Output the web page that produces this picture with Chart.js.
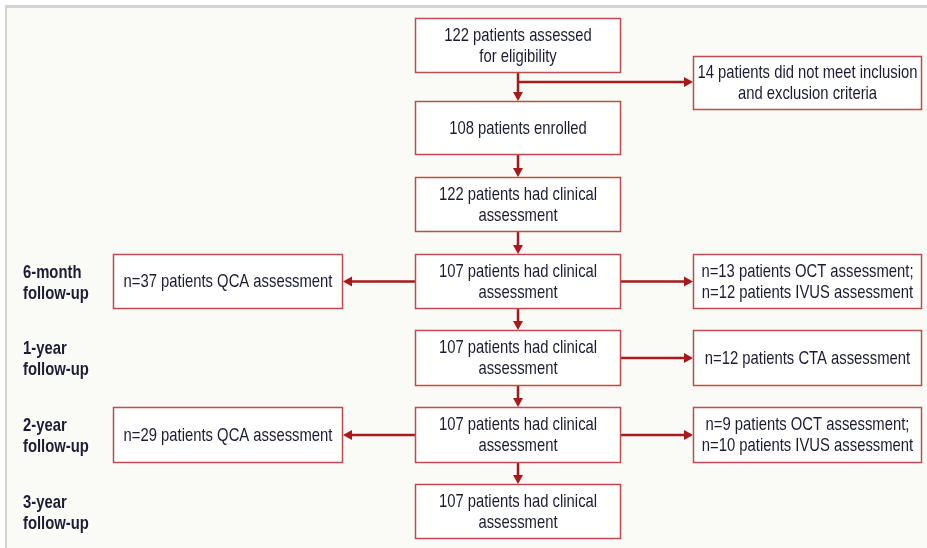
<!DOCTYPE html>
<html>
<head>
<meta charset="utf-8">
<script src="https://cdn.jsdelivr.net/npm/chart.js@4/dist/chart.umd.min.js"></script>
<style>
  body { margin: 0; background: #fff; }
  #wrap { width: 927px; height: 548px; }
</style>
</head>
<body>
<div id="wrap"><canvas id="flow" width="927" height="548"></canvas></div>
<script>
/* ===== DATA ===== */
const stages = ['6-month\nfollow-up', '1-year\nfollow-up', '2-year\nfollow-up', '3-year\nfollow-up'];
const mainSteps = [
  '122 patients assessed\nfor eligibility',
  '108 patients enrolled',
  '122 patients had clinical\nassessment',
  '107 patients had clinical\nassessment',
  '107 patients had clinical\nassessment',
  '107 patients had clinical\nassessment',
  '107 patients had clinical\nassessment'
];
const excluded = '14 patients did not meet inclusion\nand exclusion criteria';
const leftBranches = ['n=37 patients QCA assessment', null, 'n=29 patients QCA assessment', null];
const rightBranches = [
  'n=13 patients OCT assessment;\nn=12 patients IVUS assessment',
  'n=12 patients CTA assessment',
  'n=9 patients OCT assessment;\nn=10 patients IVUS assessment',
  null
];

/* ===== LAYOUT (data units of the hidden scales) ===== */
const MAIN_X = [415, 621];
const LEFT_X = [113, 343];
const RIGHT_X = [693, 922];
const MAIN_Y = [[18, 73], [101, 155], [177, 232], [254, 309], [330, 386], [407, 463], [484, 539]];
const EXCL_Y = [56, 110];
const BRANCH_Y = 82;
const STAGE_X = 23;

const RED = '#a8191c';
const BOX = '#bf4b4b';
const INK = '#1c1c36';
const FONT = '"Liberation Sans", Arial, sans-serif';
const SQUEEZE = 0.78;   // condensed look

/* ===== FLOW PLUGIN ===== */
const flowPlugin = {
  id: 'flow',
  beforeDraw(chart) {
    const { ctx, scales: { x, y } } = chart;
    const px = v => x.getPixelForValue(v);
    const py = v => y.getPixelForValue(v);

    // frame
    ctx.save();
    ctx.fillStyle = '#fafaf6';
    ctx.fillRect(px(6), py(6), px(927) - px(6), py(548) - py(6));
    ctx.fillStyle = '#d2d2d2';
    ctx.fillRect(px(6), py(5), px(927) - px(6), 3);
    ctx.fillRect(px(5), py(5), 2, py(548) - py(5));
    ctx.restore();
  },
  afterDatasetsDraw(chart) {
    const { ctx, scales: { x, y } } = chart;
    const px = v => x.getPixelForValue(v);
    const py = v => y.getPixelForValue(v);

    function text(lines, tx, ty, align, font) {
      ctx.save();
      ctx.translate(tx, ty);
      ctx.scale(SQUEEZE, 1);
      ctx.fillStyle = INK;
      ctx.font = font;
      ctx.textAlign = align;
      ctx.textBaseline = 'middle';
      const lh = 21;
      lines.forEach((l, i) => ctx.fillText(l, 0, (i - (lines.length - 1) / 2) * lh));
      ctx.restore();
    }

    function box(xr, yr, label) {
      const x0 = px(xr[0]), x1 = px(xr[1]), y0 = py(yr[0]), y1 = py(yr[1]);
      ctx.fillStyle = '#ffffff';
      ctx.fillRect(x0, y0, x1 - x0, y1 - y0);
      ctx.strokeStyle = BOX;
      ctx.lineWidth = 1.5;
      ctx.strokeRect(x0 + 0.5, y0 + 0.5, x1 - x0 - 1, y1 - y0 - 1);
      text(label.split('\n'), (x0 + x1) / 2, (y0 + y1) / 2 + 0.5, 'center', '19px ' + FONT);
    }

    function arrow(xa, ya, xb, yb) {
      const x0 = px(xa), y0 = py(ya), x1 = px(xb), y1 = py(yb);
      const ang = Math.atan2(y1 - y0, x1 - x0);
      const hl = 9, hw = 5;
      ctx.strokeStyle = RED;
      ctx.fillStyle = RED;
      ctx.lineWidth = 2.5;
      ctx.beginPath();
      ctx.moveTo(x0, y0);
      ctx.lineTo(x1 - Math.cos(ang) * hl, y1 - Math.sin(ang) * hl);
      ctx.stroke();
      ctx.beginPath();
      ctx.moveTo(x1, y1);
      ctx.lineTo(x1 - Math.cos(ang) * hl - Math.sin(ang) * hw, y1 - Math.sin(ang) * hl + Math.cos(ang) * hw);
      ctx.lineTo(x1 - Math.cos(ang) * hl + Math.sin(ang) * hw, y1 - Math.sin(ang) * hl - Math.cos(ang) * hw);
      ctx.closePath();
      ctx.fill();
    }

    ctx.save();
    const mx = (MAIN_X[0] + MAIN_X[1]) / 2;

    // vertical arrows between main steps
    for (let i = 0; i < mainSteps.length - 1; i++) {
      arrow(mx, MAIN_Y[i][1], mx, MAIN_Y[i + 1][0]);
    }
    // exclusion branch
    arrow(mx, BRANCH_Y, RIGHT_X[0], BRANCH_Y);

    // follow-up branches
    stages.forEach((s, i) => {
      const yr = MAIN_Y[i + 3];
      const cy = (yr[0] + yr[1]) / 2;
      if (leftBranches[i]) arrow(MAIN_X[0], cy, LEFT_X[1], cy);
      if (rightBranches[i]) arrow(MAIN_X[1], cy, RIGHT_X[0], cy);
    });

    // boxes
    mainSteps.forEach((t, i) => box(MAIN_X, MAIN_Y[i], t));
    box(RIGHT_X, EXCL_Y, excluded);
    stages.forEach((s, i) => {
      const yr = MAIN_Y[i + 3];
      if (leftBranches[i]) box(LEFT_X, yr, leftBranches[i]);
      if (rightBranches[i]) box(RIGHT_X, yr, rightBranches[i]);
      // stage labels
      text(s.split('\n'), px(STAGE_X), py((yr[0] + yr[1]) / 2) + 1.5, 'left', 'bold 19px ' + FONT);
    });
    ctx.restore();
  }
};

/* ===== CHART ===== */
new Chart(document.getElementById('flow'), {
  type: 'scatter',
  data: { datasets: [{ data: [], pointRadius: 0 }] },
  options: {
    responsive: false,
    animation: false,
    devicePixelRatio: 1,
    layout: { padding: 0 },
    scales: {
      x: { type: 'linear', min: 0, max: 927, display: false },
      y: { type: 'linear', min: 0, max: 548, reverse: true, display: false }
    },
    plugins: { legend: { display: false }, tooltip: { enabled: false } }
  },
  plugins: [flowPlugin]
});
</script>
</body>
</html>
